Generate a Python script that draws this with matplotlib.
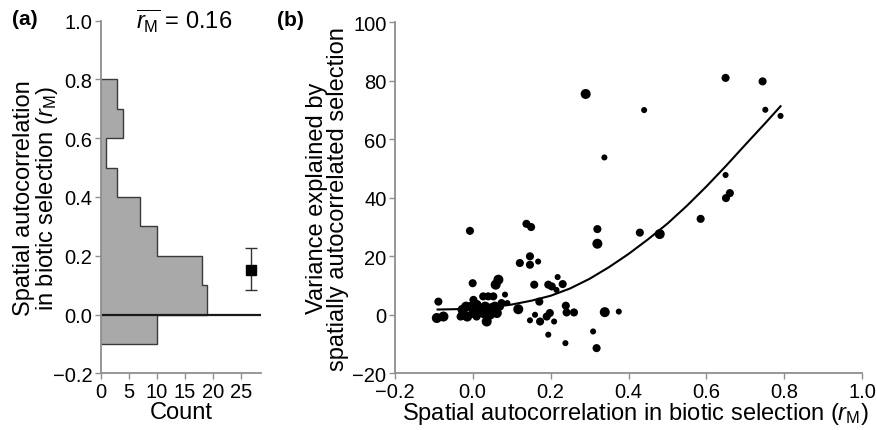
"""Two-panel figure: histogram of r_M and variance explained vs r_M."""

import matplotlib
matplotlib.use("Agg")
import matplotlib.pyplot as plt
import numpy as np

plt.rcParams["font.family"] = ["Liberation Sans", "DejaVu Sans"]
plt.rcParams["mathtext.fontset"] = "custom"
plt.rcParams["mathtext.rm"] = "Liberation Sans"
plt.rcParams["mathtext.it"] = "Liberation Sans:italic"

# Panel (a): histogram of r_M (bins of 0.1)
BIN_EDGES = [-0.1, 0.0, 0.1, 0.2, 0.3, 0.4, 0.5, 0.6, 0.7, 0.8]
BIN_COUNTS = [10, 19, 18, 10, 7, 3, 1, 4, 3]
MEAN_COUNT_POS = 26.8
MEAN_RM = 0.151
MEAN_RM_LO = 0.085
MEAN_RM_HI = 0.227

# Panel (b): scatter of r_M vs variance explained
RM = [-0.092, -0.075, -0.088, -0.026, -0.017, -0.024, -0.031, -0.014,
      0.002, -0.003, 0.010, 0.002, 0.017, 0.010, 0.027, 0.040, 0.032,
      0.027, 0.036, 0.053, 0.049, 0.057, 0.044, 0.062, 0.070, 0.074,
      0.089, 0.083, 0.000, 0.059, 0.066, -0.007, 0.138, 0.150, 0.121,
      0.147, 0.147, 0.168, 0.158, 0.117, 0.147, 0.160, 0.173, 0.171,
      0.194, 0.190, 0.198, 0.209, 0.194, 0.203, 0.218, 0.215, 0.231,
      0.239, 0.241, 0.260, 0.238, 0.309, 0.318, 0.339, 0.375, 0.320,
      0.320, 0.429, 0.480, 0.290, 0.440, 0.338, 0.649, 0.744, 0.751,
      0.790, 0.649, 0.660, 0.650, 0.585]
VAR_EXPL = [-1.1, -0.6, 4.5, 1.7, 2.8, 0.0, -0.6, -0.6,
            5.1, 2.8, 3.4, 0.6, 1.1, -0.6, 6.3, 6.3, 2.8,
            0.6, -2.3, 6.3, 2.3, 2.8, 0.0, 0.6, 2.8, 4.0,
            4.0, 6.9, 10.8, 10.3, 12.0, 28.7, 31.1, 30.0, 17.7,
            20.0, 17.1, 18.2, 10.3, 1.9, -1.9, 0.0, -2.3, 4.5,
            -6.8, -0.6, 0.6, -2.3, 10.3, 9.7, 12.9, 8.5, 10.5,
            3.1, 0.8, 0.8, -9.7, -5.7, -11.4, 0.9, 1.1, 29.3,
            24.3, 28.1, 27.6, 75.5, 70.0, 53.8, 81.0, 79.8, 70.1,
            68.0, 47.8, 41.6, 39.9, 32.8]
POINT_CLASS = ["L", "L", "M", "L", "L", "L", "M", "L",
               "M", "L", "L", "L", "L", "M", "M", "M", "L",
               "L", "L", "M", "L", "L", "L", "L", "M", "M",
               "S", "S", "M", "L", "L", "M", "M", "M", "M",
               "M", "M", "S", "M", "L", "S", "S", "M", "M",
               "S", "M", "M", "S", "M", "M", "S", "S", "M",
               "M", "M", "M", "S", "S", "M", "L", "S", "M",
               "L", "M", "L", "L", "S", "S", "M", "M", "S",
               "S", "S", "M", "M", "M"]

# Fitted curve
CURVE_X = [-0.09, -0.05, 0.0, 0.05, 0.10, 0.15, 0.20, 0.25, 0.30, 0.35,
           0.40, 0.45, 0.50, 0.55, 0.60, 0.65, 0.70, 0.75, 0.79]
CURVE_Y = [1.8, 1.9, 2.1, 2.6, 3.5, 4.8, 6.5, 9.0, 12.3, 16.3,
           20.8, 25.8, 31.2, 37.3, 43.9, 50.9, 58.2, 65.4, 71.3]

SIZE_MAP = {"L": 52, "M": 34, "S": 19}
SPINE_GREY = "#8f8f8f"
FONT_TICK = 14.5
FONT_LABEL = 17


def _style(ax):
    for side in ("top", "right"):
        ax.spines[side].set_visible(False)
    for side in ("left", "bottom"):
        ax.spines[side].set_color(SPINE_GREY)
        ax.spines[side].set_linewidth(1.3)
    ax.tick_params(direction="out", length=4, width=1, color=SPINE_GREY,
                   labelsize=FONT_TICK, pad=2)


def main():
    fig = plt.figure(figsize=(8.77, 4.31), dpi=100)

    # ---- panel (a)
    ax_a = fig.add_axes([0.1148, 0.1316, 0.1828, 0.8181])
    ax_a.stairs(BIN_COUNTS, BIN_EDGES, orientation="horizontal", fill=True,
                color="#a9a9a9", baseline=0)
    ax_a.stairs(BIN_COUNTS, BIN_EDGES, orientation="horizontal", fill=False,
                color="#3a3a3a", linewidth=1, baseline=0)
    ax_a.axhline(0, color="#1a1a1a", linewidth=1.6)
    ax_a.errorbar([MEAN_COUNT_POS], [MEAN_RM],
                  yerr=[[MEAN_RM - MEAN_RM_LO], [MEAN_RM_HI - MEAN_RM]],
                  fmt="s", color="black", ms=7.5, ecolor="#333333",
                  elinewidth=1, capsize=4, capthick=1)
    ax_a.set_xlim(0, 28.6)
    ax_a.set_ylim(-0.2, 1.0)
    ax_a.set_xticks([0, 5, 10, 15, 20, 25])
    ax_a.set_yticks(np.arange(-0.2, 1.01, 0.2))
    ax_a.set_yticklabels(["\u22120.2", "0.0", "0.2", "0.4", "0.6", "0.8",
                          "1.0"])
    _style(ax_a)
    ax_a.set_xlabel("Count", fontsize=FONT_LABEL, labelpad=0)
    ax_a.set_ylabel("Spatial autocorrelation\n"
                    r"in biotic selection ($\mathit{r}_{\mathrm{M}}$)",
                    fontsize=FONT_LABEL, linespacing=0.95)
    ax_a.yaxis.set_label_coords(-0.255, 0.5)
    ax_a.text(0.52, 1.0, r"$\overline{\mathit{r}_{\mathrm{M}}}$ = 0.16",
              transform=ax_a.transAxes, ha="center", va="center",
              fontsize=FONT_LABEL)
    fig.text(0.014, 0.955, "(a)", fontsize=15, fontweight="bold",
             va="center")

    # ---- panel (b)
    ax_b = fig.add_axes([0.4501, 0.1316, 0.5332, 0.8143])
    sizes = [SIZE_MAP[c] for c in POINT_CLASS]
    ax_b.scatter(RM, VAR_EXPL, s=sizes, color="black", linewidths=0,
                 zorder=3)
    ax_b.plot(CURVE_X, CURVE_Y, color="black", linewidth=1.5, zorder=2)
    ax_b.set_xlim(-0.2, 1.0)
    ax_b.set_ylim(-20, 100)
    ax_b.set_xticks(np.arange(-0.2, 1.01, 0.2))
    ax_b.set_xticklabels(["\u22120.2", "0.0", "0.2", "0.4", "0.6", "0.8",
                          "1.0"])
    ax_b.set_yticks(range(-20, 101, 20))
    ax_b.set_yticklabels(["\u221220", "0", "20", "40", "60", "80", "100"])
    _style(ax_b)
    ax_b.set_xlabel(r"Spatial autocorrelation in biotic selection "
                    r"($\mathit{r}_{\mathrm{M}}$)", fontsize=FONT_LABEL)
    ax_b.xaxis.set_label_coords(0.515, -0.075)
    ax_b.set_ylabel("Variance explained by\n"
                    "spatially autocorrelated selection",
                    fontsize=FONT_LABEL, linespacing=0.95)
    ax_b.yaxis.set_label_coords(-0.098, 0.5)
    fig.text(0.316, 0.952, "(b)", fontsize=15, fontweight="bold",
             va="center")

    fig.savefig("out.png", dpi=100)


if __name__ == "__main__":
    main()
